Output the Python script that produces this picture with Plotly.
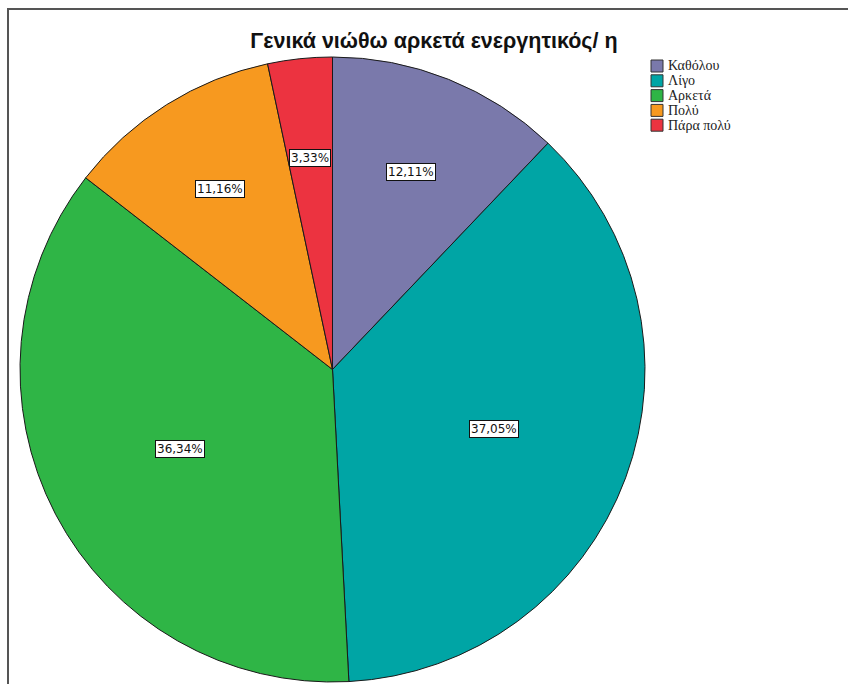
import math
import plotly.graph_objects as go

labels = ["Καθόλου", "Λίγο", "Αρκετά", "Πολύ", "Πάρα πολύ"]
values = [12.11, 37.05, 36.34, 11.16, 3.33]
text_labels = ["12,11%", "37,05%", "36,34%", "11,16%", "3,33%"]
colors = ["#7a79ab", "#00a5a5", "#2fb546", "#f7991f", "#ec3340"]
title = "Γενικά νιώθω αρκετά ενεργητικός/ η"

W, H = 848, 684
left, right, top, bottom = 18, 647, 57, 682

fig = go.Figure()
fig.add_trace(go.Pie(
    labels=labels, values=values, sort=False, direction="clockwise", rotation=0,
    marker=dict(colors=colors, line=dict(color="#1a1a1a", width=1)),
    textinfo="none", hoverinfo="label+percent", showlegend=False,
    domain=dict(x=[left / W, right / W], y=[1 - bottom / H, 1 - top / H]),
))

cx = (left + right) / 2
cy = (top + bottom) / 2
r = min(right - left, bottom - top) / 2
total = sum(values)
cum = 0
annotations = []
shapes = []
for v, t in zip(values, text_labels):
    mid = (cum + v / 2) / total * 2 * math.pi
    cum += v
    f = 0.68 if v / total < 0.2 else 0.55
    px = cx + f * r * math.sin(mid)
    py = cy - f * r * math.cos(mid)
    annotations.append(dict(
        x=px / W, y=1 - py / H, xref="paper", yref="paper",
        text=t, showarrow=False, xanchor="center", yanchor="middle",
        font=dict(family="DejaVu Sans", size=12, color="#111"),
        bgcolor="white", bordercolor="#111", borderwidth=1, borderpad=1,
    ))

# legend drawn manually (compact SPSS-style spacing)
leg_x, leg_y0, leg_dy, sw = 651, 66, 14.8, 12
for i, (lab, col) in enumerate(zip(labels, colors)):
    yc = leg_y0 + i * leg_dy
    shapes.append(dict(type="rect", xref="paper", yref="paper",
                       x0=leg_x / W, x1=(leg_x + sw) / W,
                       y0=1 - (yc + sw / 2) / H, y1=1 - (yc - sw / 2) / H,
                       fillcolor=col, line=dict(color="#333", width=1)))
    annotations.append(dict(
        x=(leg_x + sw + 3) / W, y=1 - yc / H, xref="paper", yref="paper",
        text=lab, showarrow=False, xanchor="left", yanchor="middle",
        font=dict(family="Liberation Serif", size=14, color="#222"),
    ))

shapes.append(dict(type="rect", xref="paper", yref="paper",
                   x0=8 / W, x1=1.05, y0=-0.05, y1=1 - 9 / H,
                   line=dict(color="#555", width=2)))

fig.update_layout(
    width=W, height=H,
    margin=dict(l=0, r=0, t=0, b=0),
    paper_bgcolor="white",
    showlegend=False,
    title=dict(text=title, x=434 / W, xanchor="center", y=1 - 40 / H, yanchor="middle",
               font=dict(family="Liberation Sans", size=21.5, color="#111", weight="bold")),
    annotations=annotations,
    shapes=shapes,
)

fig.write_html("out.html")
